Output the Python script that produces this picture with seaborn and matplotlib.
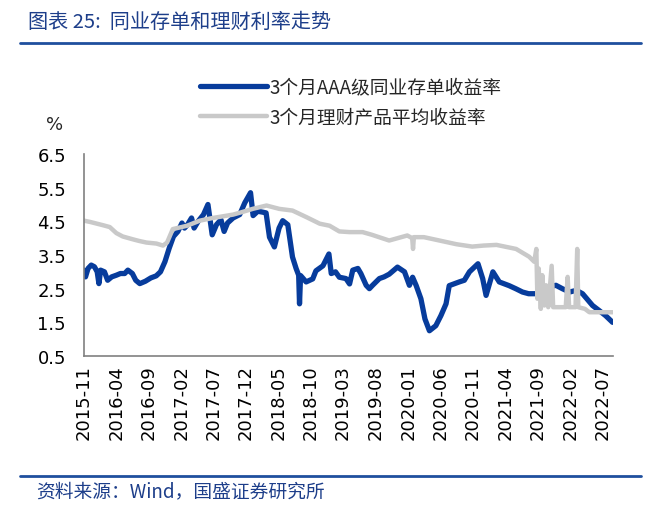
import matplotlib
matplotlib.use("Agg")
import matplotlib.pyplot as plt
import matplotlib.dates as mdates
from matplotlib.lines import Line2D
import pandas as pd
import seaborn as sns

# 3个月AAA级同业存单收益率
ncd_dates = [
    "2015-11-01", "2015-11-08", "2015-11-20", "2015-12-05", "2015-12-20", "2016-01-02",
    "2016-01-10", "2016-01-18", "2016-02-05", "2016-02-20", "2016-03-10", "2016-04-01",
    "2016-04-20", "2016-05-10", "2016-05-25", "2016-06-15", "2016-07-01", "2016-07-20",
    "2016-08-15", "2016-09-10", "2016-10-05", "2016-10-25", "2016-11-15", "2016-12-05",
    "2016-12-25", "2017-01-15", "2017-02-03", "2017-02-15", "2017-03-01", "2017-03-20",
    "2017-04-01", "2017-04-20", "2017-05-15", "2017-06-05", "2017-06-25", "2017-07-15",
    "2017-08-05", "2017-08-20", "2017-09-05", "2017-10-01", "2017-11-01", "2017-11-25",
    "2017-12-22", "2018-01-03", "2018-01-25", "2018-02-19", "2018-03-05", "2018-03-21",
    "2018-04-13", "2018-05-05", "2018-05-22", "2018-06-15", "2018-07-07", "2018-07-24",
    "2018-08-05", "2018-08-09", "2018-08-14", "2018-09-09", "2018-10-10", "2018-10-25",
    "2018-11-27", "2018-12-25", "2019-01-05", "2019-01-25", "2019-02-12", "2019-03-15",
    "2019-04-01", "2019-04-16", "2019-05-10", "2019-05-24", "2019-06-18", "2019-07-03",
    "2019-07-18", "2019-08-19", "2019-09-10", "2019-10-04", "2019-11-12", "2019-12-15",
    "2020-01-07", "2020-01-22", "2020-02-08", "2020-03-01", "2020-03-20", "2020-04-10",
    "2020-05-10", "2020-06-03", "2020-06-27", "2020-07-12", "2020-08-28", "2020-09-21",
    "2020-10-15", "2020-11-24", "2020-12-16", "2021-01-01", "2021-02-02", "2021-03-04",
    "2021-04-19", "2021-05-20", "2021-06-21", "2021-07-20", "2021-08-24", "2021-09-24",
    "2021-10-20", "2021-11-25", "2021-12-25", "2022-01-28", "2022-03-01", "2022-03-30",
    "2022-05-16", "2022-06-16", "2022-07-16", "2022-08-18",
]
ncd_values = [
    3.05, 2.85, 3.10, 3.20, 3.15, 3.00,
    2.65, 3.05, 3.00, 2.75, 2.85, 2.90,
    2.95, 2.95, 3.05, 2.95, 2.75, 2.65,
    2.72, 2.82, 2.88, 3.00, 3.30, 3.70,
    4.05, 4.20, 4.45, 4.30, 4.40, 4.60,
    4.30, 4.50, 4.70, 5.00, 4.10, 4.40,
    4.55, 4.20, 4.45, 4.60, 4.70, 5.05,
    5.35, 4.67, 4.80, 4.77, 4.75, 4.03,
    3.74, 4.30, 4.52, 4.40, 3.44, 3.10,
    2.90, 2.05, 2.89, 2.70, 2.79, 3.03,
    3.18, 3.53, 2.95, 3.00, 2.84, 2.80,
    2.64, 3.05, 3.10, 2.95, 2.60, 2.50,
    2.60, 2.80, 2.85, 2.93, 3.14, 3.00,
    2.60, 2.84, 2.59, 2.20, 1.60, 1.25,
    1.40, 1.70, 2.05, 2.59, 2.70, 2.75,
    3.00, 3.24, 2.80, 2.30, 3.00, 2.70,
    2.59, 2.50, 2.40, 2.35, 2.35, 2.50,
    2.55, 2.60, 2.50, 2.40, 2.45, 2.35,
    2.00, 1.85, 1.70, 1.50,
]

# 3个月理财产品平均收益率
wmp_dates = [
    "2015-11-01", "2015-12-01", "2016-01-01", "2016-02-01", "2016-03-01", "2016-04-01",
    "2016-05-01", "2016-06-15", "2016-07-15", "2016-08-20", "2016-10-06", "2016-11-06",
    "2016-11-25", "2016-12-22", "2017-02-01", "2017-02-27", "2017-04-28", "2017-06-28",
    "2017-08-15", "2017-10-01", "2017-11-15", "2018-01-01", "2018-03-07", "2018-05-06",
    "2018-07-07", "2018-09-12", "2018-11-12", "2018-12-28", "2019-02-12", "2019-04-01",
    "2019-06-01", "2019-07-15", "2019-10-04", "2019-12-28", "2020-01-20", "2020-01-24",
    "2020-01-28", "2020-03-15", "2020-05-27", "2020-08-15", "2020-10-28", "2020-12-20",
    "2021-02-19", "2021-05-22", "2021-07-22", "2021-08-15", "2021-08-25", "2021-08-30",
    "2021-09-05", "2021-09-15", "2021-09-22", "2021-10-02", "2021-10-10", "2021-10-20",
    "2021-11-05", "2021-11-12", "2022-01-10", "2022-01-19", "2022-01-26", "2022-02-25",
    "2022-03-05", "2022-03-10", "2022-04-10", "2022-05-01", "2022-08-18",
]
wmp_values = [
    4.52, 4.48, 4.43, 4.38, 4.33, 4.15,
    4.05, 3.97, 3.92, 3.87, 3.84, 3.78,
    3.87, 4.27, 4.33, 4.37, 4.52, 4.60,
    4.65, 4.70, 4.78, 4.87, 4.97, 4.87,
    4.82, 4.62, 4.43, 4.37, 4.20, 4.18,
    4.18, 4.10, 3.93, 4.08, 4.00, 3.68,
    4.03, 4.03, 3.93, 3.82, 3.75, 3.78,
    3.80, 3.68, 3.45, 3.30, 3.68, 2.20,
    3.10, 1.90, 2.90, 2.00, 2.60, 1.95,
    3.18, 1.95, 1.95, 2.85, 1.95, 1.95,
    3.68, 1.95, 1.90, 1.80, 1.80,
]

y_ticks = [0.5, 1.5, 2.5, 3.5, 4.5, 5.5, 6.5]
ncd_label = "3个月AAA级同业存单收益率"
wmp_label = "3个月理财产品平均收益率"
title = "图表 25:  同业存单和理财利率走势"
source = "资料来源：Wind，国盛证券研究所"

ncd = pd.DataFrame({"date": pd.to_datetime(ncd_dates), "value": ncd_values})
wmp = pd.DataFrame({"date": pd.to_datetime(wmp_dates), "value": wmp_values})

sns.set_style("white")
plt.rcParams["font.family"] = ["DejaVu Sans", "Noto Sans CJK SC"]
cjk = ["Noto Sans CJK SC", "DejaVu Sans"]

W, H = 660, 510
fig = plt.figure(figsize=(6.6, 5.1), dpi=100)
ax = fig.add_axes([84 / W, 1 - 357 / H, (613 - 84) / W, (357 - 155) / H])

blue = "#073C9C"
gray = "#C9C9C9"
sns.lineplot(data=ncd, x="date", y="value", ax=ax, color=blue, linewidth=3.8,
             label=ncd_label)
sns.lineplot(data=wmp, x="date", y="value", ax=ax, color=gray, linewidth=3.2,
             label=wmp_label)

ax.set_ylim(0.5, 6.5)
ax.set_yticks(y_ticks)
ax.set_yticklabels([f"{v:.1f}" for v in y_ticks])
ax.set_xlim(pd.Timestamp("2015-11-01"), pd.Timestamp("2022-08-20"))
ax.set_xticks(pd.date_range("2015-11-01", "2022-07-01", freq="5MS"))
ax.xaxis.set_major_formatter(mdates.DateFormatter("%Y-%m"))
ax.set_xlabel("")
ax.set_ylabel("")

for s in ["top", "right"]:
    ax.spines[s].set_visible(False)
for s in ["left", "bottom"]:
    ax.spines[s].set_color("#808080")
    ax.spines[s].set_linewidth(1.2)
ax.tick_params(axis="both", direction="in", length=4, width=1, color="#808080",
               labelsize=13, labelcolor="black")
ax.tick_params(axis="x", rotation=90, pad=6)
ax.tick_params(axis="y", pad=13)

ax.legend(loc="upper left", bbox_to_anchor=(192 / W, 1 - 70 / H),
          bbox_transform=fig.transFigure, frameon=False, handlelength=3.6,
          handletextpad=0.15, labelspacing=0.5, borderaxespad=0,
          prop={"family": cjk, "size": 13.5})

fig.text(55 / W, 1 - 125 / H, "%", fontsize=13, ha="center", va="center")

fig.text(28 / W, 1 - 22 / H, title, fontsize=14.5, color="#1D3E8A", va="center",
         family=cjk, style="italic")
fig.add_artist(Line2D([20 / W, 641 / W], [1 - 44 / H] * 2, transform=fig.transFigure,
                      color="#1F4F9E", linewidth=2))
fig.add_artist(Line2D([20 / W, 641 / W], [1 - 477 / H] * 2, transform=fig.transFigure,
                      color="#1F4F9E", linewidth=2))
fig.text(36 / W, 1 - 492 / H, source, fontsize=13.5, color="#1D3E8A", va="center",
         family=cjk, style="italic")

fig.savefig("out.png", dpi=100)
